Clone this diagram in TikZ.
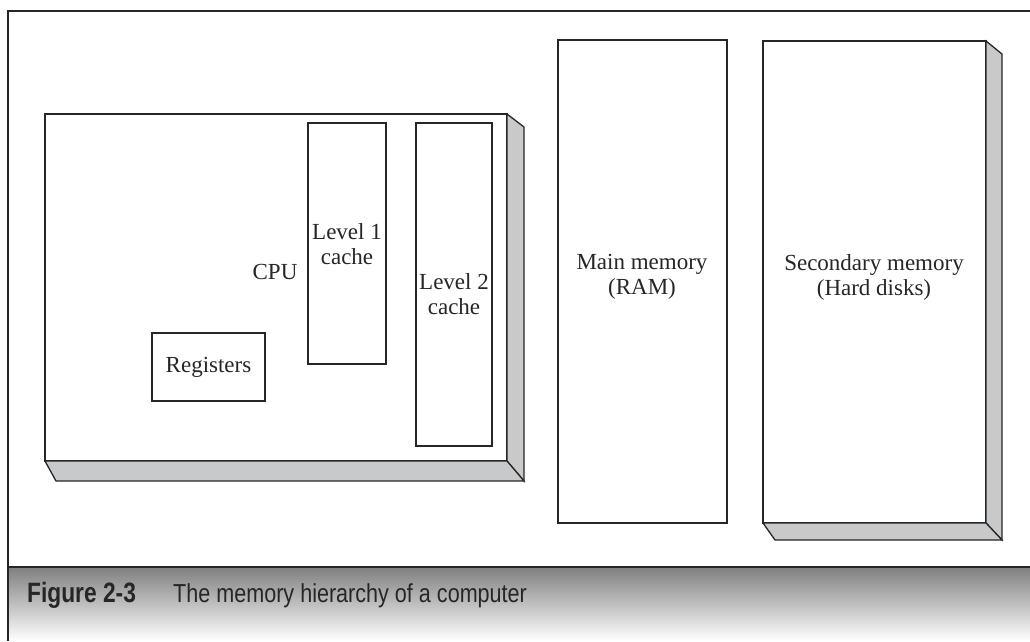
\documentclass[tikz,border=0pt]{standalone}
\usepackage{fontspec}
\setmainfont{Liberation Serif}
\newfontfamily\capfont{Liberation Sans}
\definecolor{shade}{HTML}{C8C9CB}
\definecolor{ink}{HTML}{262626}
\begin{document}
\begin{tikzpicture}[x=1pt,y=-1pt,
  box/.style={draw=ink, line width=1.3pt, fill=white, inner sep=0pt, outer sep=0pt, anchor=north west},
  side/.style={draw=ink, line width=1.3pt, fill=shade, line join=miter},
  frameline/.style={draw=ink, line width=2.2pt},
  lbl/.style={font=\fontsize{23}{25}\selectfont, align=center, text=ink, inner sep=0pt},
  captext/.style={font=\capfont\fontsize{26}{30}\selectfont, text=ink, inner sep=0pt, anchor=base west, xscale=0.83},
  capbold/.style={captext, font=\capfont\bfseries\fontsize{28}{30}\selectfont, xscale=0.98}]
\useasboundingbox (0,0) rectangle (1030,641);
\fill[white] (0,0) rectangle (1030,641);
% caption band and frame
\fill[shade] (8,567) rectangle (1030,641);
\draw[frameline] (8,641) -- (8,11) -- (1030,11);
\draw[frameline] (8,567) -- (1030,567);
% CPU block
\node[box, minimum width=462pt, minimum height=347pt] (cpu) at (45,114) {};
\draw[side] (cpu.north east) -- ++(17,13) -- ++(0,354) -- (cpu.south east) -- cycle;
\draw[side] (cpu.south west) -- ++(11,20) -- ++(468,0) -- (cpu.south east) -- cycle;
\node[box, minimum width=78pt, minimum height=241pt] (l1) at (308,123) {};
\node[box, minimum width=76pt, minimum height=323pt] (l2) at (416,123) {};
\node[box, minimum width=113pt, minimum height=68pt] (reg) at (152,333) {};
% memories
\node[box, minimum width=169pt, minimum height=483pt] (ram) at (558,40) {};
\node[box, minimum width=223pt, minimum height=482pt] (sec) at (763,41) {};
\draw[side] (sec.north east) -- ++(16,13) -- ++(0,486) -- (sec.south east) -- cycle;
\draw[side] (sec.south west) -- ++(12,17) -- ++(227,0) -- (sec.south east) -- cycle;
% labels
\node[lbl] (cpulbl) at (275,272) {CPU};
\node[lbl] (l1lbl) at (347,244) {Level 1\\cache};
\node[lbl] (l2lbl) at (454,294) {Level 2\\cache};
\node[lbl] (reglbl) at (reg.center) {Registers};
\node[lbl] (ramlbl) at (642,277) {Main memory\\(RAM)};
\node[lbl] (seclbl) at (874,277) {Secondary memory\\(Hard disks)};
% caption
\node[capbold] (capnum) at (27,602) {Figure 2-3};
\node[captext] (captxt) at (173,602) {The memory hierarchy of a computer};
\end{tikzpicture}
\end{document}
